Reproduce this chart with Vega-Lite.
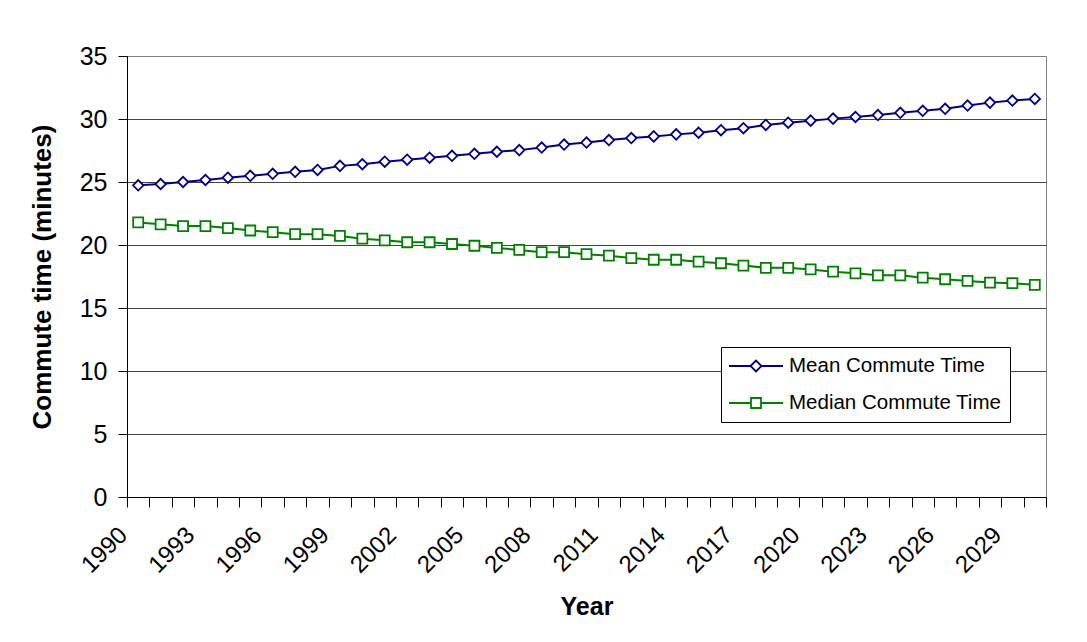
{
  "$schema": "https://vega.github.io/schema/vega-lite/v6.json",
  "width": 919,
  "height": 441,
  "autosize": "none",
  "padding": {"left": 127, "top": 56, "right": 41, "bottom": 145},
  "background": "white",
  "config": {
    "view": {"stroke": "#808080", "strokeWidth": 1},
    "font": "Liberation Sans"
  },
  "data": {
    "values": [
      {"year": 1990, "series": "Mean Commute Time", "value": 24.74},
      {"year": 1991, "series": "Mean Commute Time", "value": 24.84},
      {"year": 1992, "series": "Mean Commute Time", "value": 25.0},
      {"year": 1993, "series": "Mean Commute Time", "value": 25.16},
      {"year": 1994, "series": "Mean Commute Time", "value": 25.34},
      {"year": 1995, "series": "Mean Commute Time", "value": 25.49},
      {"year": 1996, "series": "Mean Commute Time", "value": 25.65},
      {"year": 1997, "series": "Mean Commute Time", "value": 25.81},
      {"year": 1998, "series": "Mean Commute Time", "value": 25.96},
      {"year": 1999, "series": "Mean Commute Time", "value": 26.28},
      {"year": 2000, "series": "Mean Commute Time", "value": 26.41},
      {"year": 2001, "series": "Mean Commute Time", "value": 26.61},
      {"year": 2002, "series": "Mean Commute Time", "value": 26.77},
      {"year": 2003, "series": "Mean Commute Time", "value": 26.93},
      {"year": 2004, "series": "Mean Commute Time", "value": 27.08},
      {"year": 2005, "series": "Mean Commute Time", "value": 27.24},
      {"year": 2006, "series": "Mean Commute Time", "value": 27.40},
      {"year": 2007, "series": "Mean Commute Time", "value": 27.53},
      {"year": 2008, "series": "Mean Commute Time", "value": 27.73},
      {"year": 2009, "series": "Mean Commute Time", "value": 27.97},
      {"year": 2010, "series": "Mean Commute Time", "value": 28.13},
      {"year": 2011, "series": "Mean Commute Time", "value": 28.33},
      {"year": 2012, "series": "Mean Commute Time", "value": 28.49},
      {"year": 2013, "series": "Mean Commute Time", "value": 28.62},
      {"year": 2014, "series": "Mean Commute Time", "value": 28.78},
      {"year": 2015, "series": "Mean Commute Time", "value": 28.91},
      {"year": 2016, "series": "Mean Commute Time", "value": 29.11},
      {"year": 2017, "series": "Mean Commute Time", "value": 29.27},
      {"year": 2018, "series": "Mean Commute Time", "value": 29.53},
      {"year": 2019, "series": "Mean Commute Time", "value": 29.71},
      {"year": 2020, "series": "Mean Commute Time", "value": 29.87},
      {"year": 2021, "series": "Mean Commute Time", "value": 30.03},
      {"year": 2022, "series": "Mean Commute Time", "value": 30.16},
      {"year": 2023, "series": "Mean Commute Time", "value": 30.31},
      {"year": 2024, "series": "Mean Commute Time", "value": 30.49},
      {"year": 2025, "series": "Mean Commute Time", "value": 30.65},
      {"year": 2026, "series": "Mean Commute Time", "value": 30.81},
      {"year": 2027, "series": "Mean Commute Time", "value": 31.07},
      {"year": 2028, "series": "Mean Commute Time", "value": 31.30},
      {"year": 2029, "series": "Mean Commute Time", "value": 31.46},
      {"year": 2030, "series": "Mean Commute Time", "value": 31.59},
      {"year": 1990, "series": "Median Commute Time", "value": 21.79},
      {"year": 1991, "series": "Median Commute Time", "value": 21.64},
      {"year": 1992, "series": "Median Commute Time", "value": 21.50},
      {"year": 1993, "series": "Median Commute Time", "value": 21.50},
      {"year": 1994, "series": "Median Commute Time", "value": 21.34},
      {"year": 1995, "series": "Median Commute Time", "value": 21.15},
      {"year": 1996, "series": "Median Commute Time", "value": 21.02},
      {"year": 1997, "series": "Median Commute Time", "value": 20.86},
      {"year": 1998, "series": "Median Commute Time", "value": 20.86},
      {"year": 1999, "series": "Median Commute Time", "value": 20.72},
      {"year": 2000, "series": "Median Commute Time", "value": 20.50},
      {"year": 2001, "series": "Median Commute Time", "value": 20.37},
      {"year": 2002, "series": "Median Commute Time", "value": 20.22},
      {"year": 2003, "series": "Median Commute Time", "value": 20.22},
      {"year": 2004, "series": "Median Commute Time", "value": 20.08},
      {"year": 2005, "series": "Median Commute Time", "value": 19.94},
      {"year": 2006, "series": "Median Commute Time", "value": 19.77},
      {"year": 2007, "series": "Median Commute Time", "value": 19.61},
      {"year": 2008, "series": "Median Commute Time", "value": 19.43},
      {"year": 2009, "series": "Median Commute Time", "value": 19.43},
      {"year": 2010, "series": "Median Commute Time", "value": 19.27},
      {"year": 2011, "series": "Median Commute Time", "value": 19.15},
      {"year": 2012, "series": "Median Commute Time", "value": 18.96},
      {"year": 2013, "series": "Median Commute Time", "value": 18.83},
      {"year": 2014, "series": "Median Commute Time", "value": 18.83},
      {"year": 2015, "series": "Median Commute Time", "value": 18.68},
      {"year": 2016, "series": "Median Commute Time", "value": 18.55},
      {"year": 2017, "series": "Median Commute Time", "value": 18.37},
      {"year": 2018, "series": "Median Commute Time", "value": 18.19},
      {"year": 2019, "series": "Median Commute Time", "value": 18.19},
      {"year": 2020, "series": "Median Commute Time", "value": 18.06},
      {"year": 2021, "series": "Median Commute Time", "value": 17.88},
      {"year": 2022, "series": "Median Commute Time", "value": 17.75},
      {"year": 2023, "series": "Median Commute Time", "value": 17.59},
      {"year": 2024, "series": "Median Commute Time", "value": 17.59},
      {"year": 2025, "series": "Median Commute Time", "value": 17.41},
      {"year": 2026, "series": "Median Commute Time", "value": 17.28},
      {"year": 2027, "series": "Median Commute Time", "value": 17.15},
      {"year": 2028, "series": "Median Commute Time", "value": 17.02},
      {"year": 2029, "series": "Median Commute Time", "value": 16.97},
      {"year": 2030, "series": "Median Commute Time", "value": 16.84}
    ]
  },
  "encoding": {
    "x": {
      "field": "year",
      "type": "quantitative",
      "scale": {"domain": [1989.5, 2030.5], "nice": false, "zero": false},
      "axis": {
        "title": "Year",
        "titleFont": "Liberation Sans",
        "titleFontSize": 25,
        "titleFontWeight": "bold",
        "titleColor": "black",
        "titlePadding": 17,
        "tickCount": 200,
        "tickMinStep": 0.25,
        "values": [1989.5, 1990, 1990.5, 1991.5, 1992.5, 1993, 1993.5, 1994.5, 1995.5, 1996, 1996.5, 1997.5, 1998.5, 1999, 1999.5,
                   2000.5, 2001.5, 2002, 2002.5, 2003.5, 2004.5, 2005, 2005.5, 2006.5, 2007.5, 2008, 2008.5, 2009.5,
                   2010.5, 2011, 2011.5, 2012.5, 2013.5, 2014, 2014.5, 2015.5, 2016.5, 2017, 2017.5, 2018.5, 2019.5,
                   2020, 2020.5, 2021.5, 2022.5, 2023, 2023.5, 2024.5, 2025.5, 2026, 2026.5, 2027.5, 2028.5, 2029, 2029.5, 2030.5],
        "labelExpr": "datum.value % 1 === 0 ? format(datum.value, 'd') : ''",
        "labelOverlap": false,
        "labelFlush": false,
        "labelBound": false,
        "labelAngle": -45,
        "labelAlign": "right",
        "labelBaseline": "middle",
        "labelFont": "Liberation Sans",
        "labelFontSize": 24,
        "labelColor": "black",
        "labelPadding": 24,
        "labelOffset": -15,
        "tickSize": 10,
        "tickColor": "black",
        "tickWidth": 1,
        "tickOpacity": {"condition": {"test": "datum.value % 1 === 0", "value": 0}, "value": 1},
        "domainColor": "black",
        "domainWidth": 1,
        "grid": false
      }
    },
    "y": {
      "field": "value",
      "type": "quantitative",
      "scale": {"domain": [0, 35], "nice": false},
      "axis": {
        "title": "Commute time (minutes)",
        "titleFont": "Liberation Sans",
        "titleFontSize": 26,
        "titleFontWeight": "bold",
        "titleColor": "black",
        "titlePadding": 24,
        "values": [0, 5, 10, 15, 20, 25, 30, 35],
        "labelFont": "Liberation Sans",
        "labelFontSize": 25,
        "labelColor": "black",
        "labelPadding": 11,
        "tickSize": 9,
        "tickColor": "black",
        "domainColor": "black",
        "grid": true,
        "gridColor": "#444444",
        "gridWidth": 1,
        "gridOpacity": {"condition": {"test": "datum.value === 35 || datum.value === 0", "value": 0}, "value": 1}
      }
    },
    "stroke": {
      "field": "series",
      "type": "nominal",
      "scale": {"domain": ["Mean Commute Time", "Median Commute Time"], "range": ["#000080", "#008000"]},
      "legend": {
        "title": null,
        "orient": "none",
        "legendX": 594,
        "legendY": 291,
        "padding": 8,
        "rowPadding": 15,
        "labelFont": "Liberation Sans",
        "labelFontSize": 20.5,
        "labelColor": "black",
        "labelLimit": 0,
        "labelOffset": 38,
        "symbolSize": 400,
        "symbolStrokeWidth": 1.8,
        "symbolFillColor": "white",
        "strokeColor": "black",
        "fillColor": "white",
        "encode": {
          "symbols": {
            "update": {
              "shape": {"signal": "datum.value === 'Mean Commute Time' ? 'M-1.1,0H1.05M2.15,0H4.3M1.05,0L1.6,-0.55L2.15,0L1.6,0.55Z' : 'M-1.1,0H1.1M2.1,0H4.3M1.1,-0.5H2.1V0.5H1.1Z'"},
              "fill": {"value": "white"}
            }
          }
        }
      }
    }
  },
  "layer": [
    {"mark": {"type": "line", "strokeWidth": 2}},
    {
      "transform": [{"filter": "datum.series === 'Mean Commute Time'"}],
      "mark": {"type": "point", "shape": "diamond", "filled": true, "fill": "white", "strokeWidth": 1.8, "size": 110, "opacity": 1}
    },
    {
      "transform": [{"filter": "datum.series === 'Median Commute Time'"}],
      "mark": {"type": "point", "shape": "square", "filled": true, "fill": "white", "strokeWidth": 1.8, "size": 100, "opacity": 1}
    }
  ]
}
